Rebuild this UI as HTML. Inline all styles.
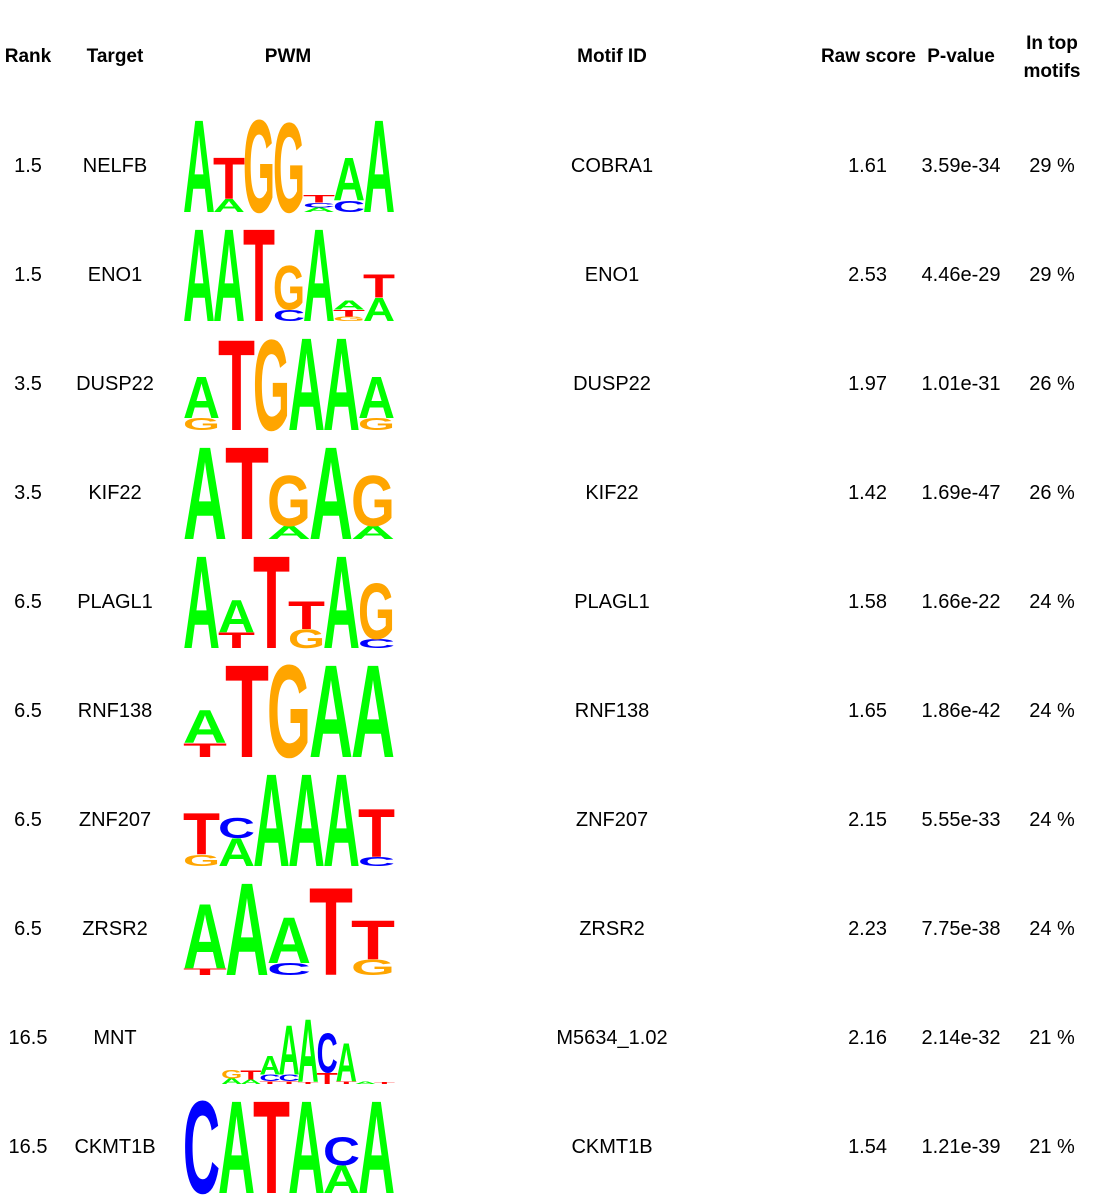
<!DOCTYPE html>
<html><head><meta charset="utf-8"><style>
html,body{margin:0;padding:0;background:#fff;}
svg{display:block;font-family:"Liberation Sans",Arial,sans-serif;}
</style></head><body>
<svg id="chart" width="1100" height="1200" viewBox="0 0 1100 1200">
<g id="hdr" font-weight="bold" font-size="19" fill="#000">
<text x="28" y="62" text-anchor="middle">Rank</text>
<text x="115" y="62" text-anchor="middle">Target</text>
<text x="288" y="62" text-anchor="middle">PWM</text>
<text x="612" y="62" text-anchor="middle">Motif ID</text>
<text x="916" y="62" text-anchor="end">Raw score</text>
<text x="961" y="62" text-anchor="middle">P-value</text>
<text x="1052" y="49" text-anchor="middle">In top</text>
<text x="1052" y="77" text-anchor="middle">motifs</text>
</g>
<g id="rows"></g>
</svg>
<script>
const ranks=["1.5","1.5","3.5","3.5","6.5","6.5","6.5","6.5","16.5","16.5"];
const targets=["NELFB","ENO1","DUSP22","KIF22","PLAGL1","RNF138","ZNF207","ZRSR2","MNT","CKMT1B"];
const motifIds=["COBRA1","ENO1","DUSP22","KIF22","PLAGL1","RNF138","ZNF207","ZRSR2","M5634_1.02","CKMT1B"];
const rawScores=["1.61","2.53","1.97","1.42","1.58","1.65","2.15","2.23","2.16","1.54"];
const pValues=["3.59e-34","4.46e-29","1.01e-31","1.69e-47","1.66e-22","1.86e-42","5.55e-33","7.75e-38","2.14e-32","1.21e-39"];
const inTop=["29 %","29 %","26 %","26 %","24 %","24 %","24 %","24 %","21 %","21 %"];
// logos: each column stacked bottom-to-top as [letter, height fraction]
const logos=[
 [[["A",1]],[["A",.14],["T",.45]],[["G",1]],[["G",.97]],[["A",.05],["C",.05],["T",.08]],[["C",.12],["A",.46]],[["A",1]]],
 [[["A",1]],[["A",1]],[["T",1]],[["C",.12],["G",.48]],[["A",1]],[["G",.05],["T",.07],["A",.1]],[["A",.25],["T",.25]]],
 [[["G",.13],["A",.45]],[["T",.98]],[["G",.98]],[["A",1]],[["A",1]],[["G",.13],["A",.45]]],
 [[["A",1]],[["T",1]],[["A",.14],["G",.55]],[["A",1]],[["A",.14],["G",.55]]],
 [[["A",1]],[["T",.17],["A",.35]],[["T",1]],[["G",.2],["T",.3]],[["A",1]],[["C",.1],["G",.6]]],
 [[["T",.15],["A",.36]],[["T",1]],[["G",1]],[["A",1]],[["A",1]]],
 [[["G",.12],["T",.45]],[["A",.3],["C",.22]],[["A",1]],[["A",1]],[["A",1]],[["C",.1],["T",.52]]],
 [[["T",.07],["A",.7]],[["A",1]],[["C",.13],["A",.5]],[["T",.95]],[["G",.17],["T",.42]]],
 [[],[],[["A",.06],["G",.09]],[["A",.05],["T",.1]],[["T",.03],["C",.07],["A",.2]],[["T",.03],["C",.07],["A",.53]],[["T",.02],["A",.68]],[["T",.12],["C",.43]],[["T",.03],["A",.41]],[["A",.03]],[["T",.02]]],
 [[["C",1]],[["A",1]],[["T",1]],[["A",1]],[["A",.3],["C",.3]],[["A",1]]]
];
const colors={A:"#00ff00",C:"#0000ff",G:"#ffa500",T:"#ff0000"};
const NS="http://www.w3.org/2000/svg";
const rowsG=document.getElementById("rows");
function rowY(i){return 165+109*i;}
const logoX0=184, logoW=210, logoH=94;
function txt(g,x,y,s,anchor,name){
  const t=document.createElementNS(NS,"text");
  t.setAttribute("x",x);t.setAttribute("y",y);t.setAttribute("text-anchor",anchor);
  t.setAttribute("font-size","20");t.textContent=s;
  
  
  g.appendChild(t);
}
for(let i=0;i<targets.length;i++){
  const g=document.createElementNS(NS,"g");
  
  
  const y=rowY(i)+7;
  txt(g,28,y,ranks[i],"middle","rank-cell");
  txt(g,115,y,targets[i],"middle","target-cell");
  txt(g,612,y,motifIds[i],"middle","motif-id-cell");
  txt(g,887,y,rawScores[i],"end","raw-score-cell");
  txt(g,961,y,pValues[i],"middle","p-value-cell");
  txt(g,1052,y,inTop[i],"middle","in-top-cell");
  const lg=document.createElementNS(NS,"g");
  
  
  const cols=logos[i], cw=logoW/cols.length, bottom=rowY(i)+47;
  cols.forEach((col,c)=>{
    let yb=bottom;
    col.forEach(([L,h])=>{
      const hp=h*logoH;
      if(hp<0.5){return;}
      const t=document.createElementNS(NS,"text");
      const sy=hp/71;
      t.setAttribute("transform","translate("+(logoX0+c*cw-1)+","+yb+") scale(1,"+sy+")");
      t.setAttribute("font-size","100");t.setAttribute("font-weight","bold");
      t.setAttribute("textLength",cw+2);t.setAttribute("lengthAdjust","spacingAndGlyphs");
      t.setAttribute("fill",colors[L]);t.textContent=L;
      
      
      lg.appendChild(t);
      yb-=hp;
    });
  });
  g.appendChild(lg);
  rowsG.appendChild(g);
}
</script>
</body></html>
